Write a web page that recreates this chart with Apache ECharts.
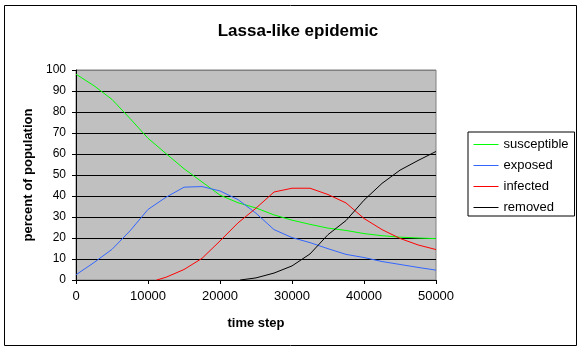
<!DOCTYPE html>
<html>
<head>
<meta charset="utf-8">
<script src="https://cdn.jsdelivr.net/npm/echarts@6/dist/echarts.min.js"></script>
<style>
  html, body { margin: 0; padding: 0; background: #fff; }
  #chart { width: 585px; height: 351px; }
</style>
</head>
<body>
<div id="chart"></div>
<script>
// time steps shared by all series (null = series not started yet)
var steps = [0, 2500, 5000, 7500, 10000, 12500, 15000, 17500, 20000, 22500, 25000,
             27500, 30000, 32500, 35000, 37500, 40000, 42500, 45000, 47500, 50000];

var susceptible = [98, 92.5, 86, 76.9, 67.5, 60.2, 53, 46.7, 40.4, 36.8, 34.3,
                   31, 28.5, 26.5, 24.7, 23.6, 22.1, 21.1, 20.4, 20, 19.7];
var exposed = [2.5, 8.3, 14.6, 23.4, 33.6, 39.4, 44.2, 44.5, 42.4, 38.3, 31.8,
               24, 20.2, 17.8, 14.9, 12.2, 10.7, 8.8, 7.4, 6, 4.7];
var infected = [null, null, null, null, null, 1.3, 5, 10.3, 18.6, 27.2, 34.2,
                41.9, 43.7, 43.7, 40.7, 36.7, 29.3, 24, 19.8, 16.7, 14.5];
var removed = [null, null, null, null, null, null, null, null, null, null, 1,
               3.3, 6.7, 12.4, 21.6, 28.3, 38, 46, 52.3, 56.9, 61.2];

// where the infected / removed curves leave zero
var infectedStart = [11200, 0];
var removedStart = [22800, 0];

var seriesNames = ['susceptible', 'exposed', 'infected', 'removed'];
var seriesColors = ['#00ff00', '#3366ff', '#ff0000', '#000000'];

var yTicks = [0, 10, 20, 30, 40, 50, 60, 70, 80, 90, 100];

function pairs(vals, start) {
    var out = [];
    if (start) out.push(start);
    for (var i = 0; i < steps.length; i++) {
        if (vals[i] !== null) out.push([steps[i], vals[i]]);
    }
    return out;
}

var font = '"Liberation Sans", Arial, sans-serif';

var gridColors = yTicks.map(function (v) { return v == 100 ? '#808080' : '#000000'; });

var chart = echarts.init(document.getElementById('chart'));

var allData = [pairs(susceptible), pairs(exposed), pairs(infected, infectedStart), pairs(removed, removedStart)];

var option = {
    backgroundColor: '#ffffff',
    animation: false,
    title: {
        text: 'Lassa-like epidemic',
        left: 293,
        textAlign: 'center',
        top: 18,
        textStyle: { fontFamily: font, fontSize: 17, fontWeight: 'bold', color: '#000' }
    },
    graphic: [{
        type: 'rect',
        shape: { x: 4.5, y: 5.5, width: 572, height: 340 },
        style: { fill: null, stroke: '#000', lineWidth: 1 },
        silent: true,
        z: -1
    }],
    legend: {
        orient: 'vertical',
        left: 468,
        top: 132,
        width: 107,
        height: 85,
        padding: [6, 6, 2, 5],
        backgroundColor: '#fff',
        borderColor: '#000',
        borderWidth: 1,
        itemWidth: 25,
        itemHeight: 14,
        itemGap: 8,
        itemStyle: { opacity: 0 },
        lineStyle: { width: 1 },
        textStyle: { fontFamily: font, fontSize: 13, color: '#000' },
        data: seriesNames
    },
    grid: {
        left: 76,
        right: 149,
        top: 70,
        bottom: 71,
        show: true,
        backgroundColor: '#c0c0c0',
        borderColor: '#808080',
        borderWidth: 1
    },
    xAxis: {
        type: 'value',
        min: 0,
        max: 50000,
        interval: 10000,
        name: 'time step',
        nameLocation: 'middle',
        nameGap: 37,
        nameTextStyle: { fontFamily: font, fontSize: 13, fontWeight: 'bold', color: '#000' },
        axisLine: { lineStyle: { color: '#000', width: 1 } },
        axisTick: { show: true, length: 4, lineStyle: { color: '#000' } },
        axisLabel: {
            fontFamily: font, fontSize: 13, color: '#000', margin: 10,
            formatter: function (v) { return String(v); }
        },
        splitLine: { show: false }
    },
    yAxis: {
        type: 'value',
        min: 0,
        max: 100,
        interval: 10,
        name: 'percent of population',
        nameLocation: 'middle',
        nameGap: 33,
        nameTextStyle: { fontFamily: font, fontSize: 13, fontWeight: 'bold', color: '#000' },
        axisLine: { show: true, lineStyle: { color: '#000', width: 1 } },
        axisTick: { show: true, length: 4, lineStyle: { color: '#000' } },
        axisLabel: { fontFamily: font, fontSize: 12, color: '#000', margin: 10 },
        splitLine: { show: true, lineStyle: { color: gridColors, width: 1 } }
    },
    series: seriesNames.map(function (name, i) {
        return {
            name: name,
            type: 'line',
            data: allData[i],
            symbol: 'none',
            smooth: false,
            color: seriesColors[i],
            lineStyle: { width: 1, color: seriesColors[i] }
        };
    })
};

chart.setOption(option);
</script>
</body>
</html>
